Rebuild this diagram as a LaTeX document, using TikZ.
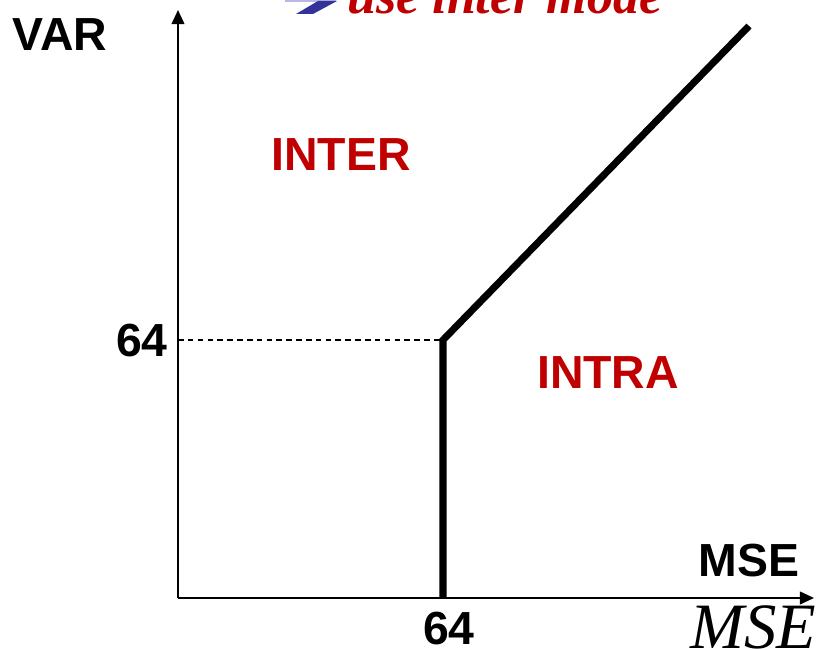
\documentclass[tikz,border=0pt]{standalone}
\usepackage{fontspec}
\setmainfont{Liberation Sans}
\newfontfamily\timesfont{Liberation Serif}
\usetikzlibrary{positioning, arrows.meta, calc}
\definecolor{regred}{HTML}{C00000}
\definecolor{hintblue}{HTML}{333399}
\definecolor{hintlight}{HTML}{B8B8E0}

\begin{document}
\begin{tikzpicture}[x=0.025cm, y=-0.025cm,
    axis/.style={line width=1.4pt, -{Triangle[length=10pt, width=9pt]}},
    lbl/.style={inner sep=0pt, font=\fontsize{33}{36}\selectfont\bfseries},
    region/.style={lbl, text=regred},
    bound/.style={line width=5pt, line join=miter}]
    \useasboundingbox (0,0) rectangle (816,650);
    \clip (0,0) rectangle (816,650);
    % axes
    \coordinate (O) at (178,598);
    \coordinate (ytop) at (178,10);
    \coordinate (xend) at (814,598);
    \draw[axis] (O) -- (ytop);
    \draw[axis] (O) -- (xend);
    % decision boundary
    \coordinate (b0) at (443,598);
    \coordinate (knee) at (443,340);
    \coordinate (b1) at (749,26);
    \coordinate (ymark) at (178,340);
    \draw[line width=0.8pt, dash pattern=on 4pt off 3pt] (ymark) -- (knee);
    \draw[bound] (b0) -- (knee) -- (b1);
    % labels
    \node[lbl] (var) at (60,35) {VAR};
    \node[lbl] (mse) at (749,561) {MSE};
    \node[lbl] (y64) at (142,341) {64};
    \node[lbl] (x64) at (449,629) {64};
    \node[region] (inter) at (341,155) {INTER};
    \node[region] (intra) at (608,373) {INTRA};
    \node[inner sep=0pt, anchor=base west, font=\fontsize{46}{50}\selectfont\timesfont\itshape]
      (msei) at (690,648) {MSE};
    % hint at top, cut off
    \fill[hintlight] (285,0) rectangle (336,2);
    \fill[hintblue] (318,1) -- (337,1) -- (313,14) -- (296,14) -- cycle;
    \node[inner sep=0pt, anchor=base west, text=regred,
      font=\fontsize{37}{40}\selectfont\timesfont\bfseries\itshape]
      (hint) at (347,14) {use inter mode};
\end{tikzpicture}
\end{document}
